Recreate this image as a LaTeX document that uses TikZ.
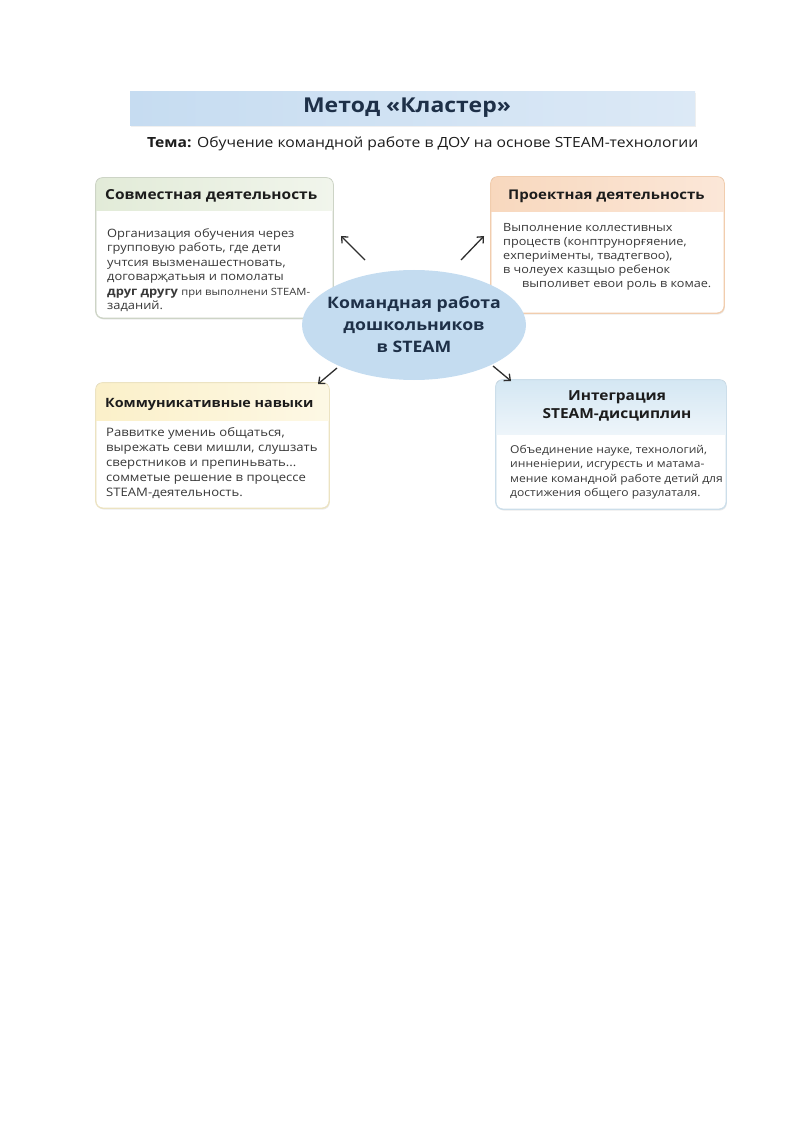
\documentclass[tikz,border=0pt]{standalone}
\usepackage{fontspec}
\setmainfont{Open Sans}[FakeStretch=1.12]
\usetikzlibrary{arrows.meta,shadows,shapes.geometric,calc}
\definecolor{navy}{HTML}{1E3048}
\definecolor{hdrtext}{HTML}{1C1C1C}
\definecolor{bodytext}{HTML}{383838}
\definecolor{titleA}{HTML}{C6DCF1}
\definecolor{titleB}{HTML}{DCE9F6}
\definecolor{ellcol}{HTML}{C4DCF0}
\definecolor{bdA}{HTML}{CDD4C6}
\definecolor{bdB}{HTML}{F1CDAE}
\definecolor{bdC}{HTML}{ECE3C2}
\definecolor{bdD}{HTML}{CCDEEA}
\definecolor{hA1}{HTML}{E2EBD8}
\definecolor{hA2}{HTML}{F1F5EC}
\definecolor{hB1}{HTML}{F8D8BE}
\definecolor{hB2}{HTML}{FBE7D8}
\definecolor{hC1}{HTML}{FBF0C9}
\definecolor{hC2}{HTML}{FDF8E5}
\definecolor{hD1}{HTML}{D4E7F3}
\definecolor{hD2}{HTML}{EEF5FA}
\definecolor{arrcol}{HTML}{2E2E2E}
\begin{document}
\begin{tikzpicture}[x=1pt,y=-1pt,
  cbox/.style={draw=#1, line width=0.8pt, rounded corners=7pt, fill=white, inner sep=0pt,
    drop shadow={opacity=0.16, shadow xshift=0.8pt, shadow yshift=-1.6pt}},
  cborder/.style={draw=#1, line width=0.8pt, rounded corners=7pt},
  hdr/.style={font=\bfseries\fontsize{13.8}{17}\selectfont, text=hdrtext, inner sep=0pt},
  body/.style={font=\fontsize{11.5}{14.5}\selectfont, text=bodytext, inner sep=0pt, align=left},
  arr/.style={draw=arrcol, line width=1.3pt, -{Straight Barb[length=5pt,width=9pt]}}
]
\useasboundingbox (0,0) rectangle (800,1131);

% title bar
\node[minimum width=565pt, minimum height=34pt, inner sep=0pt,
  left color=titleA, right color=titleB,
  drop shadow={opacity=0.12, shadow xshift=0.6pt, shadow yshift=-1.4pt}] (title) at (412.5,109) {};
\node[inner sep=0pt, font=\bfseries\fontsize{20.5}{24}\selectfont, text=navy] (titletext) at (407,108)
  {Метод «Кластер»};
\node[anchor=west, inner sep=0pt, font=\fontsize{14}{17}\selectfont, text=hdrtext] (theme) at (147,144)
  {\textbf{Тема:} Обучение командной работе в ДОУ на основе STEAM-технологии};

% box 1
\node[cbox=bdA, minimum width=237pt, minimum height=140pt] (b1) at (214.5,248) {};
\begin{scope}
  \clip[rounded corners=7pt] (b1.north west) rectangle (b1.south east);
  \fill[left color=hA1, right color=hA2] (b1.north west) rectangle ($(b1.north east)+(0,33)$);
\end{scope}
\draw[cborder=bdA] (b1.north west) rectangle (b1.south east);
\node[hdr, anchor=west] (h1) at (105,196) {Совместная деятельность};
\node[body, anchor=north west] (t1) at (107,228)
  {Организация обучения через\\
   групповую работь, где дети\\
   учтсия вызменашестновать,\\
   договарҗатьыя и помолаты\\
   \textbf{друг другу} {\fontsize{10}{14.5}\selectfont при выполнени STEAM-}\\
   заданий.};

% box 2
\node[cbox=bdB, minimum width=233pt, minimum height=136pt] (b2) at (607.5,245) {};
\begin{scope}
  \clip[rounded corners=7pt] (b2.north west) rectangle (b2.south east);
  \fill[left color=hB1, right color=hB2] (b2.north west) rectangle ($(b2.north east)+(0,35)$);
\end{scope}
\draw[cborder=bdB] (b2.north west) rectangle (b2.south east);
\node[hdr, anchor=west, font=\bfseries\fontsize{13.4}{17}\selectfont] (h2) at (508,196) {Проектная деятельность};
\node[body, anchor=north west, font=\fontsize{11.3}{14}\selectfont] (t2) at (503,223)
  {Выполнение коллестивных\\
   процеств (конптрунорғяение,\\
   ехпериіменты, твадтегвоо),\\
   в чолеуех казщыо ребенок\\
   \hspace*{19pt}выполивет евои роль в комае.};

% box 3
\node[cbox=bdC, minimum width=233pt, minimum height=125pt] (b3) at (212.5,445.5) {};
\begin{scope}
  \clip[rounded corners=7pt] (b3.north west) rectangle (b3.south east);
  \fill[left color=hC1, right color=hC2] (b3.north west) rectangle ($(b3.north east)+(0,38)$);
\end{scope}
\draw[cborder=bdC] (b3.north west) rectangle (b3.south east);
\node[hdr, anchor=west, font=\bfseries\fontsize{12.8}{17}\selectfont] (h3) at (105,404) {Коммуникативные навыки};
\node[body, anchor=north west, font=\fontsize{11.7}{15.2}\selectfont] (t3) at (106,427)
  {Раввитке умениь общаться,\\
   вырежать севи мишли, слушзать\\
   сверстников и препиньвать...\\
   сомметые решение в процессе\\
   STEAM-деятельность.};

% box 4
\node[cbox=bdD, minimum width=230pt, minimum height=129pt] (b4) at (611,444.5) {};
\begin{scope}
  \clip[rounded corners=7pt] (b4.north west) rectangle (b4.south east);
  \fill[top color=hD1, bottom color=hD2] (b4.north west) rectangle ($(b4.north east)+(0,55)$);
\end{scope}
\draw[cborder=bdD] (b4.north west) rectangle (b4.south east);
\node[hdr, align=center, font=\bfseries\fontsize{13.8}{18}\selectfont] (h4) at (617,406)
  {Интеграция\\STEAM-дисциплин};
\node[body, anchor=north west, font=\fontsize{10.8}{14.5}\selectfont] (t4) at (510,445)
  {Объединение науке, технологий,\\
   инненіерии, исгурєсть и матама-\\
   мение командной работе детий для\\
   достижения общего разулаталя.};

% centre ellipse
\node[ellipse, fill=ellcol, minimum width=224pt, minimum height=110pt, inner sep=0pt] (c) at (414,325) {};
\node[inner sep=0pt, align=center, font=\bfseries\fontsize{15.8}{22}\selectfont, text=navy] (ctext) at (c.center)
  {Командная работа\\дошкольников\\в STEAM};

% arrows
\coordinate (a1s) at (365,260);
\coordinate (a1e) at (341,236);
\coordinate (a2s) at (461,260);
\coordinate (a2e) at (484,236);
\coordinate (a3s) at (337,368);
\coordinate (a3e) at (318,384);
\coordinate (a4s) at (493,366);
\coordinate (a4e) at (511,381);
\draw[arr] (a1s) -- (a1e);
\draw[arr] (a2s) -- (a2e);
\draw[arr] (a3s) -- (a3e);
\draw[arr] (a4s) -- (a4e);
\end{tikzpicture}
\end{document}
